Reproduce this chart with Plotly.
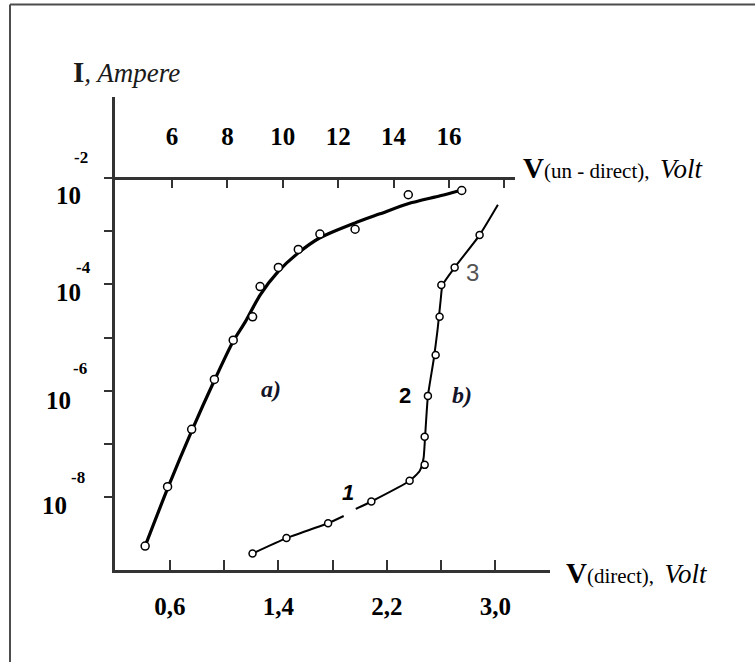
import numpy as np
import plotly.graph_objects as go

# ---------------- data ----------------
# curve a): reverse ("un-direct") branch, top axis, volts; current as log10(I, A)
a_points_v = [5.03, 5.84, 6.71, 7.53, 8.21, 8.91, 9.18, 9.84, 10.56, 11.34, 12.61, 14.53, 16.46]
a_points_logi = [-8.93, -7.81, -6.73, -5.79, -5.05, -4.61, -4.04, -3.68, -3.34, -3.05, -2.96, -2.31, -2.23]
a_line_v = [5.03, 5.86, 6.72, 7.52, 8.20, 8.64, 9.18, 9.83, 10.55, 11.34, 12.61, 13.51, 14.52, 15.68, 16.47]
a_line_logi = [-8.93, -7.82, -6.75, -5.82, -5.08, -4.71, -4.20, -3.76, -3.41, -3.12, -2.84, -2.67, -2.48, -2.33, -2.22]

# curve b): direct branch, bottom axis, volts
b_points_v = [1.209, 1.459, 1.766, 2.085, 2.367, 2.478, 2.478, 2.502, 2.559, 2.588, 2.601, 2.699, 2.883]
b_points_logi = [-9.07, -8.78, -8.50, -8.09, -7.70, -7.40, -6.87, -6.10, -5.33, -4.61, -4.01, -3.68, -3.07]
b_line_v = [1.209, 1.459, 1.766, 1.881, None, 1.970, 2.085, 2.367, 2.441, 2.470, 2.481, 2.502,
            2.544, 2.573, 2.596, 2.610, 2.699, 2.883, 3.018]
b_line_logi = [-9.07, -8.78, -8.50, -8.363, None, -8.231, -8.09, -7.70, -7.515, -7.270, -6.875, -6.10,
               -5.424, -4.858, -4.293, -4.01, -3.68, -3.07, -2.50]

# axes ticks / labels
bottom_tickvals = [0.6, 1.0, 1.4, 1.8, 2.2, 2.6, 3.0, 3.4]
bottom_ticktext = ["0,6", "", "1,4", "", "2,2", "", "3,0", ""]
top_tickvals = [6, 8, 10, 12, 14, 16, 18]
top_ticktext = ["6", "8", "10", "12", "14", "16", ""]
y_tick_exps = [-2, -3, -4, -5, -6, -7, -8]
y_label_exps = [-2, -4, -6, -8]

# curve labels
curve_labels = ["a)", "b)", "1", "2", "3"]

# ---------------- styling / layout geometry ----------------
W, H = 755, 662
L, R, T, B = 115, 205, 97, 92
PW, PH = W - L - R, H - T - B


def px(x):
    return (x - L) / PW


def py(y):
    return (H - B - y) / PH


def to_current(vals):
    return [None if v is None else 10.0 ** v for v in vals]


SERIF = "Liberation Serif, Times New Roman, serif"
SANS = "Liberation Sans, Arial, sans-serif"
AX = "#333333"

fig = go.Figure()

fig.add_trace(go.Scatter(x=a_line_v, y=to_current(a_line_logi), xaxis="x2", yaxis="y",
                         mode="lines", line=dict(color="black", width=3.2, shape="spline", smoothing=0.7),
                         hoverinfo="skip"))
fig.add_trace(go.Scatter(x=a_points_v, y=to_current(a_points_logi), xaxis="x2", yaxis="y",
                         mode="markers",
                         marker=dict(symbol="circle", size=8, color="white",
                                     line=dict(color="black", width=1.5))))
fig.add_trace(go.Scatter(x=b_line_v, y=to_current(b_line_logi), xaxis="x", yaxis="y",
                         mode="lines", connectgaps=False,
                         line=dict(color="black", width=2, shape="spline", smoothing=0.5),
                         hoverinfo="skip"))
fig.add_trace(go.Scatter(x=b_points_v, y=to_current(b_points_logi), xaxis="x", yaxis="y",
                         mode="markers",
                         marker=dict(symbol="circle", size=7, color="white",
                                     line=dict(color="black", width=1.5))))

axis_common = dict(showline=True, linecolor=AX, linewidth=3, showgrid=False, zeroline=False,
                   ticks="inside", tickcolor=AX, tickwidth=2,
                   tickfont=dict(family=SERIF, size=25, color="black", weight="bold"))

fig.update_layout(
    width=W, height=H,
    margin=dict(l=L, r=R, t=T, b=B, pad=0),
    paper_bgcolor="white", plot_bgcolor="rgba(0,0,0,0)",
    showlegend=False,
    xaxis=dict(domain=[0, 1], range=[0.195, 3.402], tickvals=bottom_tickvals,
               ticktext=bottom_ticktext, ticklen=10, ticklabelstandoff=12,
               **axis_common),
    xaxis2=dict(domain=[0, px(515)], anchor="free", position=py(178.3), side="top",
                range=[3.942, 18.383], tickvals=top_tickvals, ticktext=top_ticktext,
                ticklen=8, ticklabelstandoff=22, **axis_common),
    yaxis=dict(type="log", domain=[0, 1], range=[-9.381, -0.468],
               tickvals=[10.0 ** e for e in y_tick_exps], showticklabels=False,
               showline=True, linecolor=AX, linewidth=3, ticks="outside", ticklen=8,
               tickwidth=2, tickcolor=AX, showgrid=False, zeroline=False),
)

# frame
FR = "#4d4d4d"
fig.add_shape(type="line", xref="paper", yref="paper", x0=px(10), x1=px(10),
              y0=py(H + 5), y1=py(4.5), line=dict(color=FR, width=2))
fig.add_shape(type="line", xref="paper", yref="paper", x0=px(10), x1=px(W + 5),
              y0=py(4.5), y1=py(4.5), line=dict(color=FR, width=2))

# y tick labels (10 with a raised exponent)
ten_right = [83, 83, 73, 69]
ten_dy = [17, 8, 10, 9]
exp_left = [72, 74, 71, 69]
exp_dy = [21, 17, 22, 19]
for e, tr, td, el, ed in zip(y_label_exps, ten_right, ten_dy, exp_left, exp_dy):
    fig.add_annotation(x=px(tr), xref="paper", y=e, yref="y", text="<b>10</b>",
                       xanchor="right", yanchor="middle", yshift=-td, showarrow=False,
                       font=dict(family=SERIF, size=25, color="black", weight="bold"))
    fig.add_annotation(x=px(el), xref="paper", y=e, yref="y", text="<b>%d</b>" % e,
                       xanchor="left", yanchor="middle", yshift=ed, showarrow=False,
                       font=dict(family=SERIF, size=17, color="black", weight="bold"))

# axis titles
fig.add_annotation(x=px(71), y=py(72), xref="paper", yref="paper", xanchor="left", yanchor="middle",
                   showarrow=False,
                   text="<b><span style='font-size:29px'>I</span></b><i>, Ampere</i>",
                   font=dict(family=SERIF, size=27, color="#1a1a1a"))
fig.add_annotation(x=px(521), y=py(168), xref="paper", yref="paper", xanchor="left", yanchor="middle",
                   showarrow=False,
                   text="<b><span style='font-size:29px'>V</span></b>(un - direct),  <i><span style='font-size:27px'>Volt</span></i>",
                   font=dict(family=SERIF, size=21, color="black"))
fig.add_annotation(x=px(564), y=py(573), xref="paper", yref="paper", xanchor="left", yanchor="middle",
                   showarrow=False,
                   text="<b><span style='font-size:29px'>V</span></b>(direct),  <i><span style='font-size:27px'>Volt</span></i>",
                   font=dict(family=SERIF, size=21, color="black"))

# curve labels
label_pos = [(271, 389), (462, 395), (348, 492), (405, 395), (472.5, 272)]
label_font = [dict(family=SERIF, size=24, color="#141428"),
              dict(family=SERIF, size=24, color="#141428"),
              dict(family=SANS, size=22, color="black"),
              dict(family=SANS, size=22, color="black"),
              dict(family="Liberation Sans Narrow, " + SANS, size=24, color="#555555")]
label_text = ["<b><i>a)</i></b>", "<b><i>b)</i></b>", "<b><i>1</i></b>", "<b>2</b>", "3"]
for (lx, ly), f, t in zip(label_pos, label_font, label_text):
    fig.add_annotation(x=px(lx), y=py(ly), xref="paper", yref="paper", text=t,
                       showarrow=False, xanchor="center", yanchor="middle", font=f)

fig.write_html("out.html", config={"displayModeBar": False},
               post_script="document.body.style.margin='0px';")
